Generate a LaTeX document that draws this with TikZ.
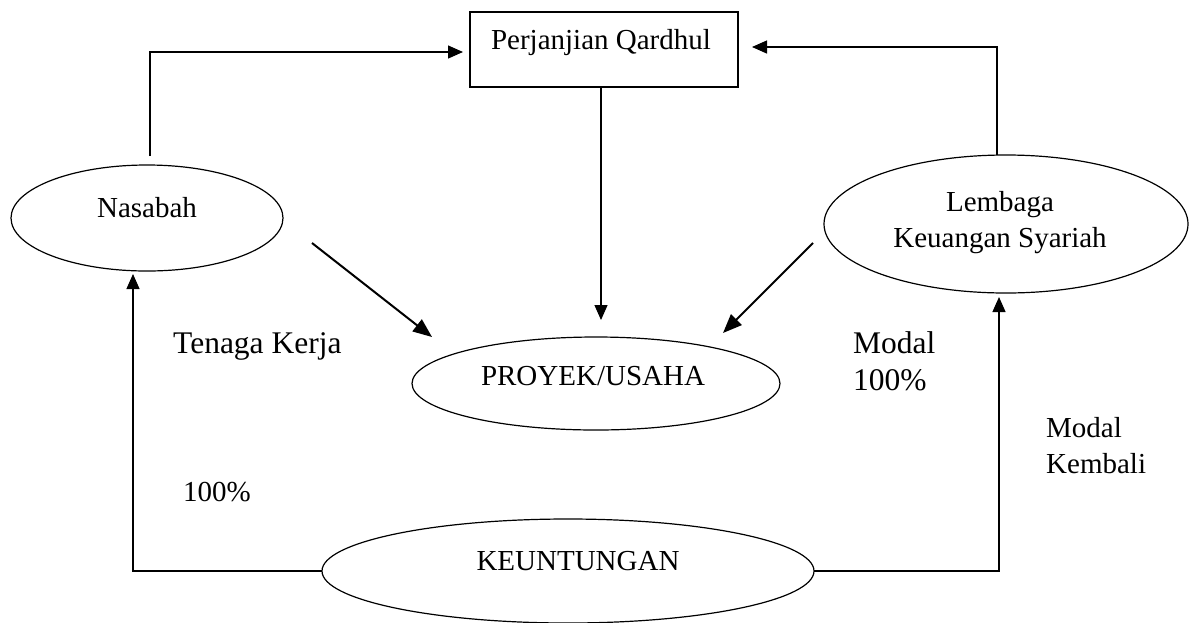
\documentclass[tikz,border=0pt]{standalone}
\usepackage{fontspec}
\setmainfont{Liberation Serif}
\usetikzlibrary{shapes.geometric,arrows.meta,calc}

\begin{document}
\begin{tikzpicture}[x=1pt, y=-1pt,
    blob/.style={draw, ellipse, line width=1.2pt, inner sep=0pt, outer sep=0pt},
    lbl/.style={font=\fontsize{29}{36}\selectfont, inner sep=0pt},
    biglbl/.style={font=\fontsize{31.5}{37}\selectfont, inner sep=0pt, align=left, anchor=base west},
    flow/.style={line width=1.3pt, -{Triangle[length=15pt, width=13pt]}},
    push/.style={line width=2pt, -{Triangle[length=19pt, width=15pt]}}]
  \useasboundingbox (0, 0) rectangle (1198, 622);

  % Agreement box
  \node[draw, line width=1.2pt, minimum width=268pt, minimum height=75pt, outer sep=0pt] (qardhul) at (604, 49.5) {};
  \node[lbl, anchor=base] (qardhul-txt) at (601, 49) {Perjanjian Qardhul};

  % The two parties
  \node[blob, minimum width=272pt, minimum height=106pt] (nasabah) at (147, 218) {};
  \node[lbl, anchor=base] (nasabah-txt) at (147, 217) {Nasabah};
  \node[blob, minimum width=364pt, minimum height=138pt] (lembaga) at (1006, 224) {};
  \node[lbl, anchor=base, align=center] (lembaga-txt) at (1000, 247) {Lembaga\\Keuangan Syariah};

  % Project and profit
  \node[blob, minimum width=368pt, minimum height=93pt] (proyek) at (596, 383.5) {};
  \node[lbl, anchor=base] (proyek-txt) at (593, 385) {PROYEK/USAHA};
  \node[blob, minimum width=492pt, minimum height=104pt] (untung) at (568, 571) {};
  \node[lbl, anchor=base] (untung-txt) at (578, 570) {KEUNTUNGAN};

  % Side labels
  \node[biglbl] (kerja-txt) at (173, 353) {Tenaga Kerja};
  \node[lbl, anchor=base west] (persen-txt) at (183, 501) {100\%};
  \node[biglbl] (modal-txt) at (853, 390) {Modal\\100\%};
  \node[lbl, anchor=base west, align=left] (kembali-txt) at (1046, 473) {Modal\\Kembali};

  % Into the agreement
  \draw[flow, shorten >=7pt] ($(nasabah.north)+(3,-9)$) |- ($(qardhul.west)+(0,2.5)$);
  \draw[flow, shorten >=14pt] ($(lembaga.north)+(-9,0)$) |- ($(qardhul.east)+(0,-2.5)$);

  % Into the project
  \coordinate (qdown) at ($(qardhul.south)+(-3,0)$);
  \draw[flow, shorten >=17pt] (qdown) -- (qdown |- proyek.north);
  \coordinate (kerja-from) at (312, 243);
  \coordinate (kerja-to) at (432, 337);
  \draw[push] (kerja-from) -- (kerja-to);
  \coordinate (modal-from) at (813, 243);
  \coordinate (modal-to) at (723, 333);
  \draw[push] (modal-from) -- (modal-to);

  % Profit back to the parties
  \draw[flow, shorten >=3pt] (untung.west) -| ($(nasabah.south)+(-14,0)$);
  \draw[flow, shorten >=4pt] (untung.east) -| ($(lembaga.south)+(-7,0)$);
\end{tikzpicture}
\end{document}
